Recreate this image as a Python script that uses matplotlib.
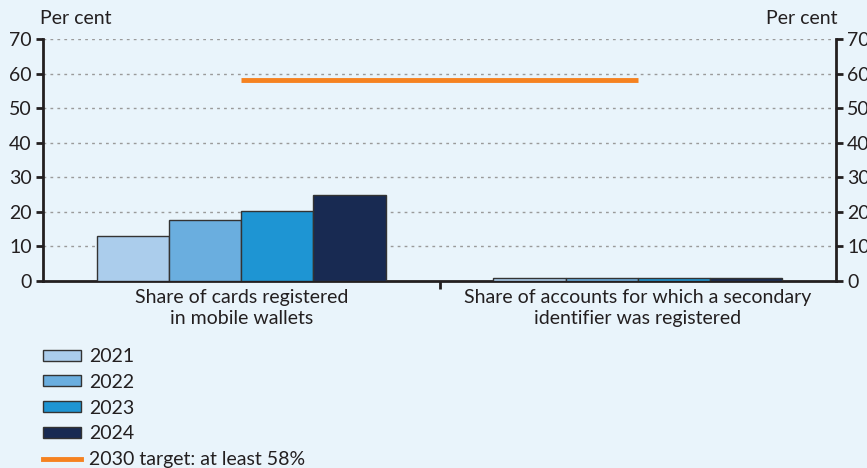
import matplotlib
matplotlib.use("Agg")
import matplotlib.pyplot as plt
from matplotlib.patches import Patch
from matplotlib.lines import Line2D
import numpy as np

categories = ["Share of cards registered\nin mobile wallets",
              "Share of accounts for which a secondary\nidentifier was registered"]
years = ["2021", "2022", "2023", "2024"]
values = {
    "2021": [13.0, 0.9],
    "2022": [17.6, 0.9],
    "2023": [20.3, 0.9],
    "2024": [25.0, 0.9],
}
target = 58
target_label = "2030 target: at least 58%"
yticks = [0, 10, 20, 30, 40, 50, 60, 70]

colors = ["#ABCDEC", "#6AAEDF", "#1E95D3", "#182A52"]
bg = "#E9F4FB"
dark = "#231F20"
fs = 14

plt.rcParams['font.family'] = ['Lato', 'DejaVu Sans']

fig = plt.figure(figsize=(8.67, 4.68), dpi=100, facecolor=bg)
ax = fig.add_axes([43/867, 1-281/468, (836-43)/867, (281-39)/468])
ax.set_facecolor(bg)

x = np.arange(len(categories))
w = 0.182
for i, yr in enumerate(years):
    ax.bar(x + (i - 1.5) * w, values[yr], width=w, color=colors[i],
           edgecolor="#333333", linewidth=1.0, zorder=3)

ax.plot([x[0], x[1]], [target, target], color="#F58220", lw=3.5,
        solid_capstyle="butt", zorder=4)

ax.set_xlim(-0.5, 1.5)
ax.set_ylim(0, 70)
ax.set_yticks(yticks)
ax.set_xticks(x)
ax.set_xticklabels(categories, fontsize=fs, color=dark, linespacing=1.25)
ax.set_xticks([0.5], minor=True)
ax.tick_params(axis="x", which="major", length=0, pad=6)
ax.tick_params(axis="x", which="minor", length=6, width=2, color=dark, direction="out")
ax.tick_params(axis="y", which="major", left=True, right=True, labelleft=True,
               labelright=True, length=5, width=2, color=dark, direction="out",
               labelsize=fs, labelcolor=dark, pad=3)

ax.spines["top"].set_visible(False)
for s in ["left", "right", "bottom"]:
    ax.spines[s].set_linewidth(2)
    ax.spines[s].set_color(dark)

for yv in yticks[1:]:
    ax.axhline(yv, color="#9A9A9A", lw=1, ls=(0, (2, 3)), zorder=1)

fig.text(40/867, 1-19/468, "Per cent", fontsize=fs, color=dark, ha="left", va="center")
fig.text(838/867, 1-19/468, "Per cent", fontsize=fs, color=dark, ha="right", va="center")

handles = [Patch(facecolor=c, edgecolor="#333333", linewidth=1.0) for c in colors]
handles.append(Line2D([0], [0], color="#F58220", lw=3.5))
labels = years + [target_label]
leg = fig.legend(handles, labels, loc="upper left", bbox_to_anchor=(43/867, 1-348/468),
                 frameon=False, fontsize=fs, handlelength=1.95, handleheight=0.5,
                 labelspacing=0.45, handletextpad=0.4, borderaxespad=0, borderpad=0)
for t in leg.get_texts():
    t.set_color(dark)

fig.savefig("out.png", dpi=100, facecolor=bg)
